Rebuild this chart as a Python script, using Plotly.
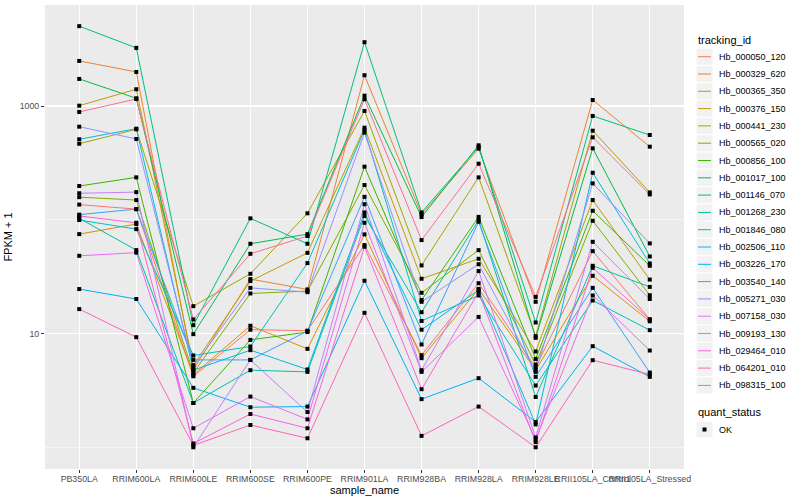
import plotly.graph_objects as go

samples = ["PB350LA", "RRIM600LA", "RRIM600LE", "RRIM600SE", "RRIM600PE", "RRIM901LA",
           "RRIM928BA", "RRIM928LA", "RRIM928LE", "RRII105LA_Control", "RRII105LA_Stressed"]

tracking_ids = ["Hb_000050_120", "Hb_000329_620", "Hb_000365_350", "Hb_000376_150", "Hb_000441_230",
                "Hb_000565_020", "Hb_000856_100", "Hb_001017_100", "Hb_001146_070", "Hb_001268_230",
                "Hb_001846_080", "Hb_002506_110", "Hb_003226_170", "Hb_003540_140", "Hb_005271_030",
                "Hb_007158_030", "Hb_009193_130", "Hb_029464_010", "Hb_064201_010", "Hb_098315_100"]

colors = ["#F8766D", "#EA8331", "#D89000", "#C09B00", "#A3A500", "#7CAE00", "#39B600", "#00BB4E",
          "#00BF7D", "#00C1A3", "#00BFC4", "#00BAE0", "#00B0F6", "#35A2FF", "#9590FF", "#C77CFF",
          "#E76BF3", "#FA62DB", "#FF62BC", "#FF6C91"]

# FPKM + 1 per sample (order of `samples`)
hb_000050_120 = [136, 124, 4.21, 10.8, 10.6, 59.9, 6.45, 27.7, 5.03, 53.0, 13.3]
hb_000329_620 = [2491, 1993, 4.81, 30.1, 24.4, 1865, 111.6, 421.5, 19.0, 1130, 439]
hb_000365_350 = [74.8, 91.7, 4.34, 11.7, 7.33, 74.4, 6.07, 24.7, 4.76, 32.2, 12.8]
hb_000376_150 = [1007, 1404, 5.27, 28.9, 51.2, 645, 30.3, 45.4, 6.95, 149, 29.8]
hb_000441_230 = [466, 624, 17.4, 33.5, 114, 905, 39.7, 236, 9.48, 607, 174]
hb_000565_020 = [158, 149, 4.52, 22.5, 23.6, 202, 22.8, 54.1, 5.34, 98, 21.7]
hb_000856_100 = [198, 236, 2.45, 8.79, 10.3, 293, 19.7, 106, 5.98, 120, 39.4]
hb_001017_100 = [1730, 1170, 9.87, 61.5, 74.8, 1233, 105.6, 451.5, 9.16, 425, 47.6]
hb_001146_070 = [5035, 3243, 11.84, 102.9, 61.5, 3639, 116.1, 436.5, 12.51, 817.6, 556]
hb_001268_230 = [103, 54.1, 2.45, 4.76, 4.60, 108, 15.4, 99.4, 2.77, 39.4, 25.7]
hb_001846_080 = [99.4, 82.8, 6.41, 7.69, 41.6, 616, 12.9, 21.6, 3.49, 19.5, 10.7]
hb_002506_110 = [510, 632, 4.76, 7.14, 4.83, 116, 10.8, 24.1, 1.59, 259, 41.3]
hb_003226_170 = [24.6, 20.1, 3.33, 2.25, 2.28, 29.1, 2.65, 4.05, 1.67, 7.74, 4.16]
hb_003540_140 = [111, 124, 5.86, 5.86, 10.5, 159, 8.01, 96.0, 4.16, 25.2, 4.54]
hb_005271_030 = [658, 513, 5.09, 25.2, 23.1, 583, 19.0, 40.7, 4.60, 209, 62.0]
hb_007158_030 = [171, 175, 1.0, 5.86, 2.04, 137, 4.76, 35.4, 1.22, 64.0, 20.1]
hb_009193_130 = [48.2, 51.4, 1.47, 2.79, 1.76, 94.1, 4.60, 14.0, 1.17, 21.6, 7.09]
hb_029464_010 = [108, 94.1, 1.08, 1.96, 1.47, 57.9, 3.24, 23.1, 1.11, 37.8, 13.3]
hb_064201_010 = [16.4, 9.29, 1.04, 1.57, 1.20, 15.2, 1.26, 2.28, 1.0, 5.83, 4.36]
hb_098315_100 = [887, 1153, 13.3, 50.2, 71.9, 1147, 66.3, 311, 21.0, 531, 167]

series = [hb_000050_120, hb_000329_620, hb_000365_350, hb_000376_150, hb_000441_230,
          hb_000565_020, hb_000856_100, hb_001017_100, hb_001146_070, hb_001268_230,
          hb_001846_080, hb_002506_110, hb_003226_170, hb_003540_140, hb_005271_030,
          hb_007158_030, hb_009193_130, hb_029464_010, hb_064201_010, hb_098315_100]

quant_status = "OK"

FONT = "Liberation Sans, Arial, sans-serif"
W, H = 800, 500
ML, MR, MT, MB = 45, 116, 5, 31


def px_x(px):
    return (px - ML) / (W - ML - MR)


def px_y(py):
    return 1 - (py - MT) / (H - MT - MB)


fig = go.Figure()
for tid, col, vals in zip(tracking_ids, colors, series):
    fig.add_trace(go.Scatter(
        x=samples, y=vals, mode="lines", name=tid,
        line=dict(color=col, width=1), showlegend=False,
    ))

all_x = [s for vals in series for s in samples]
all_y = [v for vals in series for v in vals]
fig.add_trace(go.Scatter(
    x=all_x, y=all_y, mode="markers", name=quant_status,
    marker=dict(color="black", symbol="square", size=4, line=dict(width=0)),
    showlegend=False,
))

# ---- legend drawn ggplot-style (key boxes + text) ----
shapes = []
annotations = []
key_l, key_r = 696.5, 712.5
row_h = 17.3
first_c = 56.7
annotations.append(dict(text="tracking_id", x=px_x(696), y=px_y(40.5), xref="paper", yref="paper",
                        xanchor="left", yanchor="middle", showarrow=False,
                        font=dict(size=11, color="#000000", family=FONT)))
for i, (tid, col) in enumerate(zip(tracking_ids, colors)):
    cy = first_c + i * row_h
    shapes.append(dict(type="rect", xref="paper", yref="paper",
                       x0=px_x(key_l), x1=px_x(key_r), y0=px_y(cy - 8.1), y1=px_y(cy + 8.1),
                       fillcolor="#F2F2F2", line=dict(width=0), layer="below"))
    shapes.append(dict(type="line", xref="paper", yref="paper",
                       x0=px_x(key_l + 1.5), x1=px_x(key_r - 1.5), y0=px_y(cy), y1=px_y(cy),
                       line=dict(color=col, width=1)))
    annotations.append(dict(text=tid, x=px_x(716.5), y=px_y(cy), xref="paper", yref="paper",
                            xanchor="left", yanchor="middle", showarrow=False,
                            font=dict(size=9, color="#000000", family=FONT)))

annotations.append(dict(text="quant_status", x=px_x(696), y=px_y(412.3), xref="paper", yref="paper",
                        xanchor="left", yanchor="middle", showarrow=False,
                        font=dict(size=11, color="#000000", family=FONT)))
ok_c = 429.5
shapes.append(dict(type="rect", xref="paper", yref="paper",
                   x0=px_x(key_l), x1=px_x(key_r), y0=px_y(ok_c - 7.8), y1=px_y(ok_c + 7.8),
                   fillcolor="#F2F2F2", line=dict(width=0), layer="below"))
shapes.append(dict(type="rect", xref="paper", yref="paper",
                   x0=px_x(702.5), x1=px_x(706.5), y0=px_y(ok_c - 2), y1=px_y(ok_c + 2),
                   fillcolor="black", line=dict(width=0)))
annotations.append(dict(text=quant_status, x=px_x(716.5), y=px_y(ok_c), xref="paper", yref="paper",
                        xanchor="left", yanchor="middle", showarrow=False,
                        font=dict(size=9, color="#000000", family=FONT)))

fig.update_layout(
    width=W, height=H,
    margin=dict(l=ML, r=MR, t=MT, b=MB, autoexpand=False),
    paper_bgcolor="white",
    plot_bgcolor="#EBEBEB",
    font=dict(family=FONT, color="#000000"),
    showlegend=False,
    hovermode=False,
    shapes=shapes,
    annotations=annotations,
    xaxis=dict(
        type="category", categoryorder="array", categoryarray=samples,
        range=[-0.6, 10.6],
        showgrid=True, gridcolor="white", gridwidth=1.1,
        ticks="outside", ticklen=3, tickcolor="#333333", tickwidth=1,
        tickangle=0, automargin=False, ticklabelstandoff=-2,
        tickfont=dict(size=8.8, color="#4D4D4D"),
        title=dict(text="sample_name", font=dict(size=11, color="#000000"), standoff=0),
        zeroline=False, showline=False,
    ),
    yaxis=dict(
        type="log", range=[-0.191, 3.888],
        tickvals=[10, 1000], ticktext=["10", "1000"],
        showgrid=True, gridcolor="white", gridwidth=1.1,
        minor=dict(tickvals=[1, 100], showgrid=True, gridcolor="white", gridwidth=0.5, ticks=""),
        ticks="outside", ticklen=3, tickcolor="#333333", tickwidth=1,
        tickfont=dict(size=8.8, color="#4D4D4D"), automargin=False,
        title=dict(text="FPKM + 1", font=dict(size=11, color="#000000"), standoff=4),
        zeroline=False, showline=False,
    ),
)

fig.write_html("out.html", config={"displayModeBar": False, "staticPlot": True},
               post_script="document.body.style.margin='0';")
